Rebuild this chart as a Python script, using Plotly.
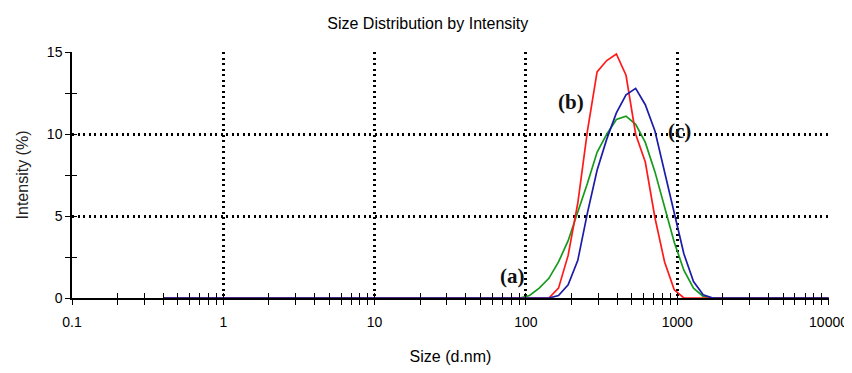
import plotly.graph_objects as go

# Size bins (d.nm) of the distribution
size_nm = [0.4, 0.4632, 0.5365, 0.6213, 0.7195, 0.8332, 0.9649, 1.117, 1.294, 1.499,
           1.736, 2.01, 2.328, 2.696, 3.122, 3.615, 4.187, 4.849, 5.615, 6.503,
           7.531, 8.721, 10.1, 11.7, 13.54, 15.69, 18.17, 21.04, 24.36, 28.21,
           32.67, 37.84, 43.82, 50.75, 58.77, 68.06, 78.82, 91.28, 105.7, 122.4,
           141.8, 164.2, 190.1, 220.2, 255.0, 295.3, 342.0, 396.1, 458.7, 531.2,
           615.1, 712.4, 825.0, 955.4, 1106, 1281, 1484, 1718, 1990, 2305,
           2669, 3091, 3580, 4145, 4801, 5560, 6439, 7456, 8635, 10000]

zeros37 = [0.0] * 37
# (a) green
intensity_a = zeros37 + [0.0, 0.15, 0.6, 1.2, 2.2, 3.5, 5.2, 7.0, 8.9, 10.0, 10.9, 11.1,
                         10.6, 9.5, 7.7, 5.5, 3.4, 1.7, 0.6, 0.1, 0.0] + [0.0] * 12
# (b) red
intensity_b = zeros37 + [0.0, 0.0, 0.0, 0.0, 0.6, 2.6, 5.8, 10.2, 13.8, 14.5, 14.9, 13.6,
                         10.0, 8.3, 4.9, 2.2, 0.5, 0.0, 0.0, 0.0, 0.0] + [0.0] * 12
# (c) blue
intensity_c = zeros37 + [0.0, 0.0, 0.0, 0.0, 0.15, 0.8, 2.3, 5.2, 7.8, 9.7, 11.3, 12.4,
                         12.8, 11.8, 10.2, 7.7, 5.1, 2.7, 1.0, 0.2, 0.0] + [0.0] * 12

series_colors = {"a": "#179a1c", "b": "#ff1a1a", "c": "#1c1ca8"}

x_tick_vals = [0.1, 1, 10, 100, 1000, 10000]
x_tick_text = ["0.1", "1", "10", "100", "1000", "10000"]
x_minor_vals = [m * d for d in [0.1, 1, 10, 100, 1000] for m in range(2, 10)]
y_tick_vals = [0, 5, 10, 15]
y_minor_vals = [2.5, 7.5, 12.5]

# label annotations: text, x (log10 of size), y (intensity)
label_text = ["(a)", "(b)", "(c)"]
label_logx = [1.913, 2.296, 3.016]
label_y = [1.35, 11.95, 10.2]

sans = "Liberation Sans, Arial, sans-serif"

# the page adds an 8px body margin, so the figure is sized to fit inside it
FIG_W, FIG_H = 844, 365

fig = go.Figure()
for key, ys in [("a", intensity_a), ("b", intensity_b), ("c", intensity_c)]:
    fig.add_trace(go.Scatter(x=size_nm, y=ys, mode="lines",
                             line=dict(color=series_colors[key], width=1.7),
                             showlegend=False, hoverinfo="skip"))
# helper trace for the overlay axes (crossing ticks)
fig.add_trace(go.Scatter(x=[None], y=[None], xaxis="x2", yaxis="y2",
                         showlegend=False, hoverinfo="skip"))

for t, lx, ly in zip(label_text, label_logx, label_y):
    fig.add_annotation(x=lx, y=ly, xref="x", yref="y", text="<b>" + t + "</b>",
                       showarrow=False,
                       font=dict(family="Liberation Serif, Times New Roman, serif",
                                 size=21, color="#111"))

grid = dict(showgrid=True, gridcolor="black", gridwidth=2.5, griddash="2px,3.5px")
fig.update_layout(
    width=FIG_W, height=FIG_H,
    margin=dict(l=64, r=23, t=44, b=75),
    paper_bgcolor="white", plot_bgcolor="white",
    title=dict(text="Size Distribution by Intensity", x=0.47, xref="paper",
               y=1 - 15 / FIG_H, yref="container", xanchor="center", yanchor="middle",
               font=dict(family=sans, size=16, color="black")),
    xaxis=dict(type="log", range=[-1, 4.003], tickmode="array", tickvals=x_tick_vals,
               ticktext=x_tick_text, ticks="outside", ticklen=5, tickwidth=1.3,
               tickcolor="black", showline=True, linecolor="black", linewidth=1.5,
               zeroline=False, automargin=False, ticklabelstandoff=5,
               minor=dict(tickmode="array", tickvals=x_minor_vals, ticks="outside",
                          ticklen=5, tickwidth=1.3, tickcolor="black", showgrid=False),
               tickfont=dict(family=sans, size=14, color="black"),
               title=dict(text="Size (d.nm)", standoff=22,
                          font=dict(family=sans, size=16, color="black")),
               **grid),
    yaxis=dict(range=[0, 15.02], tickmode="array", tickvals=y_tick_vals,
               ticks="outside", ticklen=5, tickwidth=1.3, tickcolor="black",
               showline=True, linecolor="black", linewidth=1.5, zeroline=False,
               automargin=False,
               minor=dict(tickmode="array", tickvals=y_minor_vals, ticks="outside",
                          ticklen=5, tickwidth=1.3, tickcolor="black", showgrid=False),
               tickfont=dict(family=sans, size=14, color="black"),
               title=dict(text="Intensity (%)", standoff=14,
                          font=dict(family=sans, size=16, color="#222")),
               **grid),
    xaxis2=dict(type="log", range=[-1, 4.003], overlaying="x", anchor="y2", side="bottom",
                tickmode="array", tickvals=x_tick_vals, ticks="inside", ticklen=5,
                tickwidth=1.3, tickcolor="black", showticklabels=False,
                showgrid=False, zeroline=False, automargin=False,
                minor=dict(tickmode="array", tickvals=x_minor_vals, ticks="inside",
                           ticklen=5, tickwidth=1.3, tickcolor="black", showgrid=False)),
    yaxis2=dict(range=[0, 15.02], overlaying="y", anchor="x2", side="left",
                tickmode="array", tickvals=y_tick_vals, ticks="inside", ticklen=5,
                tickwidth=1.3, tickcolor="black", showticklabels=False,
                showgrid=False, zeroline=False, automargin=False,
                minor=dict(tickmode="array", tickvals=y_minor_vals, ticks="inside",
                           ticklen=5, tickwidth=1.3, tickcolor="black", showgrid=False)),
)

fig.write_html("out.html")
